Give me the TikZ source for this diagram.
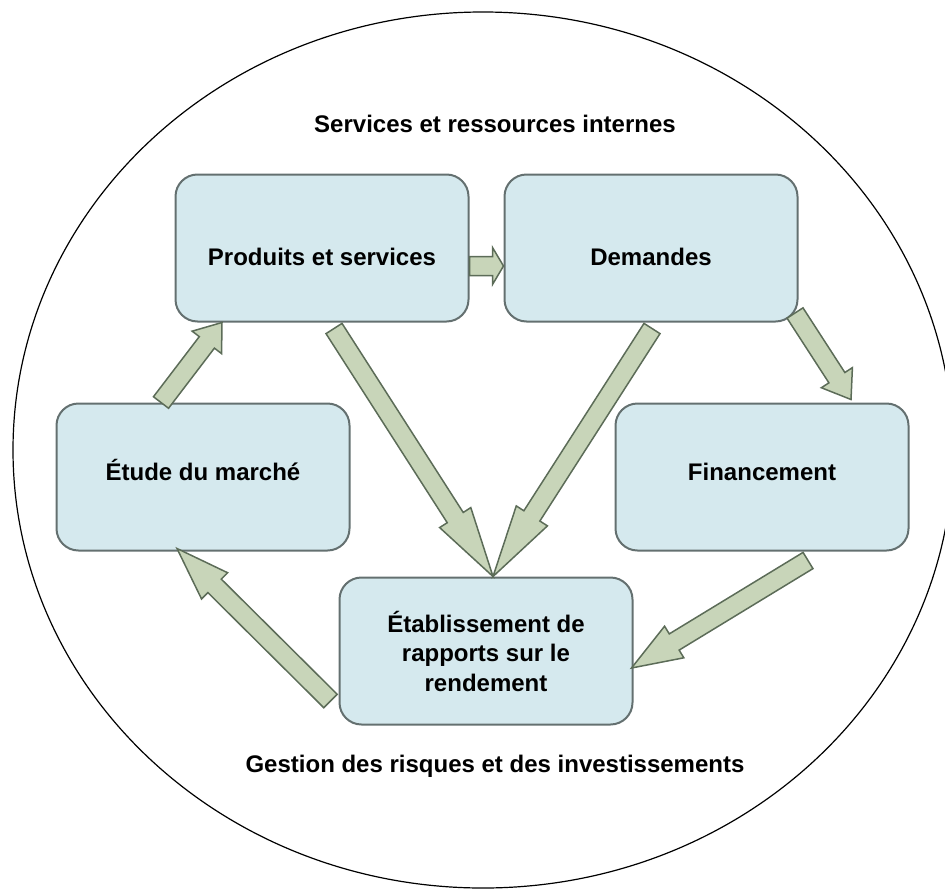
\documentclass[tikz,border=0pt]{standalone}
\usepackage{fontspec}
\setmainfont{Liberation Sans}
\usetikzlibrary{calc}

\definecolor{boxfill}{RGB}{213,233,238}
\definecolor{boxline}{RGB}{100,112,112}
\definecolor{arrowfill}{RGB}{200,213,185}
\definecolor{arrowline}{RGB}{92,108,88}

\def\unit{0.5pt}
\def\shaftw{4.75pt}
\def\headw{9.25pt}

\newcommand{\flowarrow}[3]{%
  \coordinate (neck) at ($(#2)!#3!(#1)$);
  \filldraw[arrowbody] ($(#1)!\shaftw!90:(#2)$) -- ($(neck)!\shaftw!90:(#2)$)
    -- ($(neck)!\headw!90:(#2)$) -- (#2) -- ($(neck)!\headw!-90:(#2)$)
    -- ($(neck)!\shaftw!-90:(#2)$) -- ($(#1)!\shaftw!-90:(#2)$) -- cycle;}

\begin{document}
\begin{tikzpicture}[x=\unit, y=-\unit,
    box/.style={draw=boxline, fill=boxfill, line width=1pt, rounded corners=11pt,
      minimum width=146.5pt, minimum height=73.5pt, inner sep=0pt, align=center,
      font=\bfseries\fontsize{12}{14.75}\selectfont},
    toprow/.style={text height=20pt, text depth=2.5pt},
    midrow/.style={text height=5.5pt, text depth=2.5pt},
    caption/.style={font=\bfseries\fontsize{12}{14.75}\selectfont},
    arrowbody/.style={fill=arrowfill, draw=arrowline, line width=0.75pt, line join=miter}]
  \useasboundingbox (0,0) rectangle (945,888);
  \clip (0,0) rectangle (945,888);
  \draw[line width=0.6pt] (483,450) ellipse [x radius=235pt, y radius=219pt];
  \node[caption] (internes) at (495,124) {Services et ressources internes};
  \node[caption] (gestion) at (495,766) {Gestion des risques et des investissements};
  \node[box, toprow] (prod) at (322,248) {Produits et services};
  \node[box, toprow] (dem) at (651,248) {Demandes};
  \node[box, midrow] (etude) at (203,477) {Étude du marché};
  \node[box, midrow] (fin) at (762,477) {Financement};
  \node[box] (etab) at (486,651) {Établissement de\\rapports sur le\\rendement};
  \coordinate (a1) at ($(prod.east)+(0,18)$);
  \coordinate (b1) at ($(dem.west)+(0,18)$);
  \coordinate (a2) at ($(etude.north)+(-42,0)$);
  \coordinate (b2) at ($(prod.south)+(-100,0)$);
  \coordinate (a3) at ($(prod.south)+(12,6)$);
  \coordinate (b3) at ($(etab.north)+(7,0)$);
  \coordinate (a4) at ($(dem.south)+(1,6)$);
  \coordinate (a5) at ($(dem.south east)+(-3.5,-9.5)$);
  \coordinate (b5) at ($(fin.north)+(89,-3)$);
  \coordinate (a6) at ($(fin.south)+(46,9)$);
  \coordinate (b6) at ($(etab.east)+(-2,17)$);
  \coordinate (a7) at ($(etab.west)+(-8,50)$);
  \coordinate (b7) at ($(etude.south)+(-26,-3)$);
  \flowarrow{a1}{b1}{5.5pt}
  \flowarrow{a2}{b2}{12.5pt}
  \flowarrow{a3}{b3}{35pt}
  \flowarrow{a4}{b3}{36pt}
  \flowarrow{a5}{b5}{13pt}
  \flowarrow{a6}{b6}{25pt}
  \flowarrow{a7}{b7}{26.5pt}
\end{tikzpicture}
\end{document}
